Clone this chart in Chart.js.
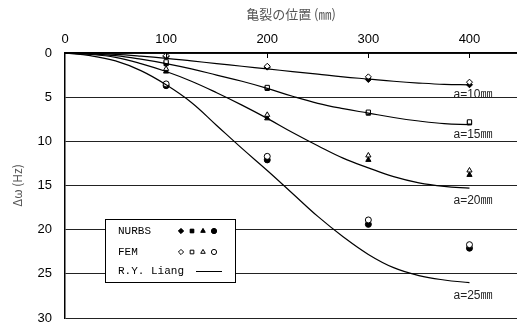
<!DOCTYPE html>
<html>
<head>
<meta charset="utf-8">
<script src="https://cdn.jsdelivr.net/npm/chart.js@4.4.0/dist/chart.umd.min.js"></script>
<style>
  html, body { margin: 0; padding: 0; background: #fff; overflow: hidden; }
  canvas { display: block; }
</style>
</head>
<body>
<canvas id="c" width="517" height="322"></canvas>
<script>
// Posición de la grieta (mm) y Δω (Hz)
const curveX   = [0, 25, 50, 75, 100, 125, 150, 175, 200, 225, 250, 275, 300, 325, 350, 375, 400];
const liang10  = [0, 0.05, 0.15, 0.35, 0.6, 0.9, 1.2, 1.5, 1.8, 2.1, 2.4, 2.7, 2.95, 3.2, 3.4, 3.55, 3.6];
const liang15  = [0, 0.1, 0.3, 0.7, 1.2, 1.8, 2.5, 3.2, 4.0, 4.9, 5.7, 6.3, 6.8, 7.3, 7.7, 8.0, 8.1];
const liang20  = [0, 0.15, 0.5, 1.2, 2.1, 3.2, 4.5, 5.9, 7.4, 9.0, 10.5, 11.9, 13.0, 14.0, 14.7, 15.1, 15.3];
const liang25  = [0, 0.3, 0.9, 2.0, 3.6, 5.6, 8.2, 10.8, 13.3, 15.9, 18.5, 20.8, 22.8, 24.3, 25.2, 25.7, 26.0];

const pointX   = [100, 200, 300, 400];
const nurbs10  = [0.4, 1.6, 3.0, 3.6];
const nurbs15  = [1.2, 4.0, 6.8, 7.9];
const nurbs20  = [2.1, 7.4, 12.1, 13.8];
const nurbs25  = [3.7, 12.1, 19.4, 22.1];
const fem10    = [0.3, 1.5, 2.7, 3.3];
const fem15    = [1.0, 3.9, 6.7, 7.8];
const fem20    = [1.8, 7.0, 11.6, 13.3];
const fem25    = [3.5, 11.7, 18.9, 21.7];

const xTicks   = [0, 100, 200, 300, 400];
const curveLabels = ['a=10㎜', 'a=15㎜', 'a=20㎜', 'a=25㎜'];
const labelYs  = [4.7, 9.3, 16.7, 27.5];

const styles = ['rectRot', 'rect', 'triangle', 'circle'];
const toXY = (xs, ys) => xs.map((x, i) => ({ x, y: ys[i] }));

const datasets = [];
[liang10, liang15, liang20, liang25].forEach(d => datasets.push({
  data: toXY(curveX, d), showLine: true, borderColor: '#000', borderWidth: 1.2,
  tension: 0.4, pointRadius: 0
}));
[fem10, fem15, fem20, fem25].forEach((d, i) => datasets.push({
  data: toXY(pointX, d), pointStyle: styles[i], pointRadius: 3,
  borderColor: '#000', backgroundColor: '#fff', borderWidth: 1
}));
[nurbs10, nurbs15, nurbs20, nurbs25].forEach((d, i) => datasets.push({
  data: toXY(pointX, d), pointStyle: styles[i], pointRadius: 3,
  borderColor: '#000', backgroundColor: '#000', borderWidth: 1
}));

// Marcas internas del eje superior, etiquetas a=.. y leyenda dibujada a mano
const extras = {
  id: 'extras',
  afterDatasetsDraw(chart) {
    const { ctx, scales: { x, y }, chartArea } = chart;
    ctx.save();
    ctx.strokeStyle = '#000';
    ctx.lineWidth = 1;
    xTicks.slice(1).forEach(v => {
      const px = Math.round(x.getPixelForValue(v)) + 0.5;
      ctx.beginPath();
      ctx.moveTo(px, chartArea.top);
      ctx.lineTo(px, chartArea.top + 5);
      ctx.stroke();
    });

    ctx.fillStyle = '#222';
    ctx.font = '12px "Liberation Sans", "Noto Sans CJK JP", sans-serif';
    ctx.textAlign = 'left';
    ctx.textBaseline = 'middle';
    curveLabels.forEach((t, i) => {
      ctx.fillText(t, x.getPixelForValue(400) - 16, y.getPixelForValue(labelYs[i]));
    });

    // leyenda
    const bx = 105.5, by = 219.5, bw = 130, bh = 63;
    ctx.fillStyle = '#fff';
    ctx.fillRect(bx, by, bw, bh);
    ctx.strokeRect(bx, by, bw, bh);
    ctx.fillStyle = '#000';
    ctx.font = '11px "Liberation Mono", monospace';
    ctx.fillText('NURBS', 118, 231);
    ctx.fillText('FEM', 118, 252);
    ctx.fillText('R.Y. Liang', 118, 271);
    styles.forEach((s, i) => {
      const cx = 181 + i * 11;
      Chart.helpers.drawPoint(ctx, { pointStyle: s, radius: 2.6, borderWidth: 1 }, cx, 231);
      ctx.fillStyle = '#000';
      ctx.fill();
      ctx.fillStyle = '#fff';
      Chart.helpers.drawPoint(ctx, { pointStyle: s, radius: 2.6, borderWidth: 1 }, cx, 252);
      ctx.fillStyle = '#000';
    });
    ctx.beginPath();
    ctx.moveTo(196, 271.5);
    ctx.lineTo(222, 271.5);
    ctx.stroke();
    ctx.restore();
  }
};

new Chart(document.getElementById('c'), {
  type: 'scatter',
  data: { datasets },
  options: {
    responsive: false,
    animation: false,
    layout: { autoPadding: false, padding: { left: 0, right: 0, top: 0, bottom: 4 } },
    plugins: { legend: { display: false }, tooltip: { enabled: false } },
    scales: {
      x: {
        type: 'linear', position: 'top', min: 0, max: 447,
        afterBuildTicks: s => { s.ticks = xTicks.map(v => ({ value: v })); },
        afterFit: s => { s.height = 53; s.paddingLeft = 0; s.paddingRight = 0; },
        grid: { display: false },
        border: { color: '#000', width: 1.5 },
        ticks: { color: '#000', padding: -2, maxRotation: 0,
          font: { size: 13, family: '"Liberation Sans", Arial, sans-serif' } },
        title: { display: true, text: '亀裂の位置 (㎜)', color: '#555',
          padding: { top: 6, bottom: 0 },
          font: { size: 13, family: '"Noto Sans CJK JP", sans-serif' } }
      },
      y: {
        reverse: true, min: 0, max: 30,
        ticks: { stepSize: 5, color: '#000', padding: 13,
          font: { size: 13, family: '"Liberation Sans", Arial, sans-serif' } },
        afterFit: s => { s.width = 65; s.paddingTop = 0; s.paddingBottom = 0; },
        grid: { color: '#222', lineWidth: 1, drawTicks: false },
        border: { color: '#000', width: 1.5 },
        title: { display: true, text: 'Δω (Hz)', color: '#555',
          padding: { top: 10, bottom: 0 },
          font: { size: 12, family: '"Noto Sans CJK JP", sans-serif' } }
      }
    }
  },
  plugins: [extras]
});
</script>
</body>
</html>
